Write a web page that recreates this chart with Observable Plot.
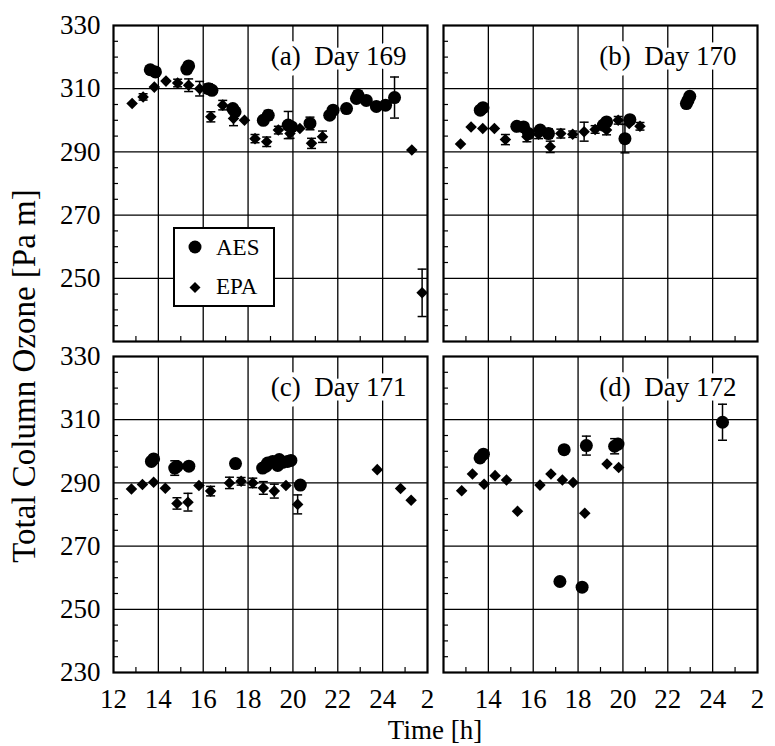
<!DOCTYPE html>
<html><head><meta charset="utf-8">
<script src="https://cdn.jsdelivr.net/npm/d3@7"></script>
<script src="https://cdn.jsdelivr.net/npm/@observablehq/plot@0.6"></script>
<style>
body{margin:0;background:#fff;}
#wrap{position:relative;width:775px;height:746px;overflow:hidden;font-family:"Liberation Serif","Times New Roman",serif;color:#000;}
#ylab{position:absolute;left:24px;top:376px;transform:translate(-50%,-50%) rotate(-90deg);font-size:33px;line-height:33px;white-space:nowrap;}
#xlab{position:absolute;left:435px;top:717px;transform:translateX(-50%);font-size:27px;line-height:26px;white-space:nowrap;}
#legend{position:absolute;left:173px;top:227px;width:102px;height:80px;border:2px solid #000;box-sizing:border-box;background:#fff;}
#legend svg{display:block;}
</style></head>
<body>
<div id="wrap">
  <div id="chart"></div>
  <div id="ylab">Total Column Ozone [Pa m]</div>
  <div id="xlab">Time [h]</div>
  <div id="legend">
    <svg width="98" height="76" font-family="Liberation Serif" font-size="23">
      <circle cx="20" cy="18" r="6.5" fill="#000"></circle>
      <text x="41" y="26">AES</text>
      <path d="M20,53 L25.5,58.5 L20,64 L14.5,58.5 Z" fill="#000"></path>
      <text x="41" y="65">EPA</text>
    </svg>
  </div>
</div>
<script>
// panels
const panelLabels = ["(a)\u00a0\u00a0Day 169", "(b)\u00a0\u00a0Day 170", "(c)\u00a0\u00a0Day 171", "(d)\u00a0\u00a0Day 172"];
const panelCols = ["L", "R", "L", "R"];
const panelRows = ["T", "T", "B", "B"];

// axis ticks & labels
const xTicks = [12, 14, 16, 18, 20, 22, 24, 26];
const xTickLabels = ["12", "14", "16", "18", "20", "22", "24", "2"];
const yTicks = [330, 310, 290, 270, 250, 230];
const yTickLabels = ["330", "310", "290", "270", "250", "230"];
const gridXTicks = [14, 16, 18, 20, 22, 24];
const gridYTicks = [250, 270, 290, 310];
const minorXTicks = [13, 15, 17, 19, 21, 23, 25];
const minorYTicks = [235, 240, 245, 255, 260, 265, 275, 280, 285, 295, 300, 305, 315, 320, 325];

// data: [time h, ozone Pa m, error bar half-length]
const aes169 = [[13.64,316.0,0],[13.87,315.3,0],[15.27,316.2,0],[15.35,317.2,0],[16.24,310.0,1.5],[16.39,309.5,0],
  [17.32,303.7,0],[17.42,302.7,0],[18.68,300.0,0],[18.9,301.6,1.5],[19.79,298.5,4.3],[19.94,297.9,0],[20.76,299.0,2],
  [21.64,301.6,0],[21.79,303.2,0],[22.39,303.7,0],[22.83,306.9,0],[22.9,307.9,1.5],[23.27,306.3,0],[23.72,304.4,0],
  [24.13,304.8,0],[24.53,307.2,6.5]];
const epa169 = [[12.83,305.3,0],[13.32,307.4,1],[13.82,310.5,0],[14.34,312.4,0],[14.86,311.8,1.2],[15.35,311.1,2],
  [15.84,310.0,2.3],[16.34,301.1,1.6],[16.87,304.8,1.5],[17.35,300.6,2.3],[17.84,300.0,0],[18.31,294.2,1.3],
  [18.83,293.2,1.5],[19.35,296.9,1.2],[19.87,295.8,1.5],[20.31,297.4,0],[20.83,292.7,1.6],[21.32,294.8,1.8],
  [25.30,290.6,0],[25.76,245.4,7.5]];
const aes170 = [[13.64,303.2,0],[13.76,304.0,0],[15.27,298.1,0],[15.57,297.9,0],[15.79,295.8,0],[16.31,296.9,0],
  [16.68,295.8,1.5],[19.13,298.5,0],[19.27,299.5,0],[20.09,294.2,4.5],[20.31,300.2,0],[22.83,305.3,0],[22.9,306.3,0],
  [22.98,307.6,0]];
const epa170 = [[12.76,292.5,0],[13.23,297.9,0],[13.75,297.4,0],[14.27,297.4,0],[14.76,293.9,1.6],[15.24,297.9,0],
  [15.72,294.8,1.6],[16.24,295.6,1.4],[16.76,291.6,1.8],[17.23,295.8,1.4],[17.76,295.6,1],[18.27,296.4,3],
  [18.76,297.1,1.2],[19.27,296.9,1.5],[19.79,300.0,1.2],[20.28,299.0,0],[20.76,298.1,1.2]];
const aes171 = [[13.69,296.8,0],[13.79,297.6,0],[14.73,294.7,2.3],[14.83,295.2,0],[15.36,295.3,0],[17.44,296.1,0],
  [18.65,294.7,0],[18.8,295.3,0],[18.87,296.3,0],[19.1,296.8,1.2],[19.32,295.5,1.2],[19.39,297.4,0],[19.54,296.5,0],
  [19.76,296.8,0],[19.91,297.1,0],[20.33,289.3,0]];
const epa171 = [[12.8,288.1,0],[13.29,289.5,0],[13.79,290.2,0],[14.31,288.3,0],[14.83,283.5,1.8],[15.32,283.9,2.8],
  [15.81,289.2,0],[16.33,287.4,1.5],[17.17,290.0,1.8],[17.69,290.5,1.2],[18.21,290.0,1.5],[18.68,288.4,2],
  [19.17,287.4,2.2],[19.69,289.2,0],[20.21,283.2,3],[23.76,294.2,0],[24.8,288.2,0],[25.27,284.5,0]];
const aes172 = [[13.63,297.9,0],[13.78,299.1,0],[17.19,258.8,0],[17.38,300.5,0],[18.18,257.0,0],[18.37,301.8,3],
  [19.63,301.6,2.4],[19.78,302.3,0],[24.44,309.2,5.7]];
const epa172 = [[12.81,287.5,0],[13.29,292.8,0],[13.81,289.6,0],[14.3,292.3,0],[14.81,290.9,0],[15.3,281.0,0],
  [16.3,289.3,0],[16.79,292.8,0],[17.3,290.9,0],[17.78,290.1,0],[18.3,280.4,0],[19.29,296.0,0],[19.81,294.9,0]];

const series = [[aes169, epa169], [aes170, epa170], [aes171, epa171], [aes172, epa172]];
const rows = [];
series.forEach(([aes, epa], i) => {
  for (const [t, v, e] of aes) rows.push({col: panelCols[i], row: panelRows[i], t, v, e, s: "AES"});
  for (const [t, v, e] of epa) rows.push({col: panelCols[i], row: panelRows[i], t, v, e, s: "EPA"});
});
const errRows = rows.filter(d => d.e > 0);
const panels = panelLabels.map((label, i) => ({label, col: panelCols[i], row: panelRows[i]}));

const xLabelRows = [];
for (const col of ["L", "R"]) xTicks.forEach((t, i) => {
  if (col === "R" && i === 0) return;
  xLabelRows.push({col, row: "B", t, label: xTickLabels[i]});
});
const yLabelRows = [];
for (const row of ["T", "B"]) yTicks.forEach((v, i) => {
  if (row === "T" && i === yTicks.length - 1) return;
  yLabelRows.push({col: "L", row, v, label: yTickLabels[i]});
});

const cap = {draw(ctx, size) { const h = Math.sqrt(size / Math.PI); ctx.moveTo(-h, 0); ctx.lineTo(h, 0); }};

const chart = Plot.plot({
  width: 775, height: 746,
  marginLeft: 113, marginRight: 18, marginTop: 25, marginBottom: 73,
  style: {fontFamily: "Liberation Serif, serif", background: "white", color: "black"},
  x: {domain: [12, 26], axis: null},
  y: {domain: [230, 330], axis: null},
  fx: {domain: ["L", "R"], paddingInner: 0.0485, paddingOuter: 0, axis: null, label: null},
  fy: {domain: ["T", "B"], paddingInner: 0.0452, paddingOuter: 0, axis: null, label: null},
  marks: [
    Plot.gridX(gridXTicks, {stroke: "black", strokeOpacity: 1, strokeWidth: 1.3}),
    Plot.gridY(gridYTicks, {stroke: "black", strokeOpacity: 1, strokeWidth: 1.3}),
    Plot.axisX(minorXTicks, {anchor: "bottom", tickSize: 5, dy: -5, text: null, label: null, facetAnchor: null, strokeWidth: 1.2}),
    Plot.axisY(minorYTicks, {anchor: "left", tickSize: 5, dx: 5, text: null, label: null, facetAnchor: null, strokeWidth: 1.2}),
    Plot.frame({stroke: "black", strokeWidth: 2.2}),
    Plot.text(xLabelRows, {fx: "col", fy: "row", x: "t", text: "label", frameAnchor: "bottom", lineAnchor: "middle", dy: 27, fontSize: 27, fill: "black"}),
    Plot.text(yLabelRows, {fx: "col", fy: "row", y: "v", text: "label", frameAnchor: "left", textAnchor: "end", dx: -13, fontSize: 27, fill: "black"}),
    Plot.text(panels, {fx: "col", fy: "row", text: "label", frameAnchor: "top-right", textAnchor: "end", lineAnchor: "middle", dx: -21, dy: 31, fontSize: 27, fill: "black", stroke: "white", strokeWidth: 9, paintOrder: "stroke"}),
    Plot.ruleX(errRows, {fx: "col", fy: "row", x: "t", y1: d => d.v - d.e, y2: d => d.v + d.e, stroke: "black", strokeWidth: 1.5}),
    Plot.dot(errRows, {fx: "col", fy: "row", x: "t", y: d => d.v + d.e, symbol: cap, r: 4.5, stroke: "black", strokeWidth: 1.5, fill: "none"}),
    Plot.dot(errRows, {fx: "col", fy: "row", x: "t", y: d => d.v - d.e, symbol: cap, r: 4.5, stroke: "black", strokeWidth: 1.5, fill: "none"}),
    Plot.dot(rows.filter(d => d.s === "EPA"), {fx: "col", fy: "row", x: "t", y: "v", symbol: "diamond2", r: 5.2, fill: "black", stroke: "none"}),
    Plot.dot(rows.filter(d => d.s === "AES"), {fx: "col", fy: "row", x: "t", y: "v", symbol: "circle", r: 6.5, fill: "black", stroke: "none"})
  ]
});
document.getElementById("chart").appendChild(chart);
</script>
</body></html>
